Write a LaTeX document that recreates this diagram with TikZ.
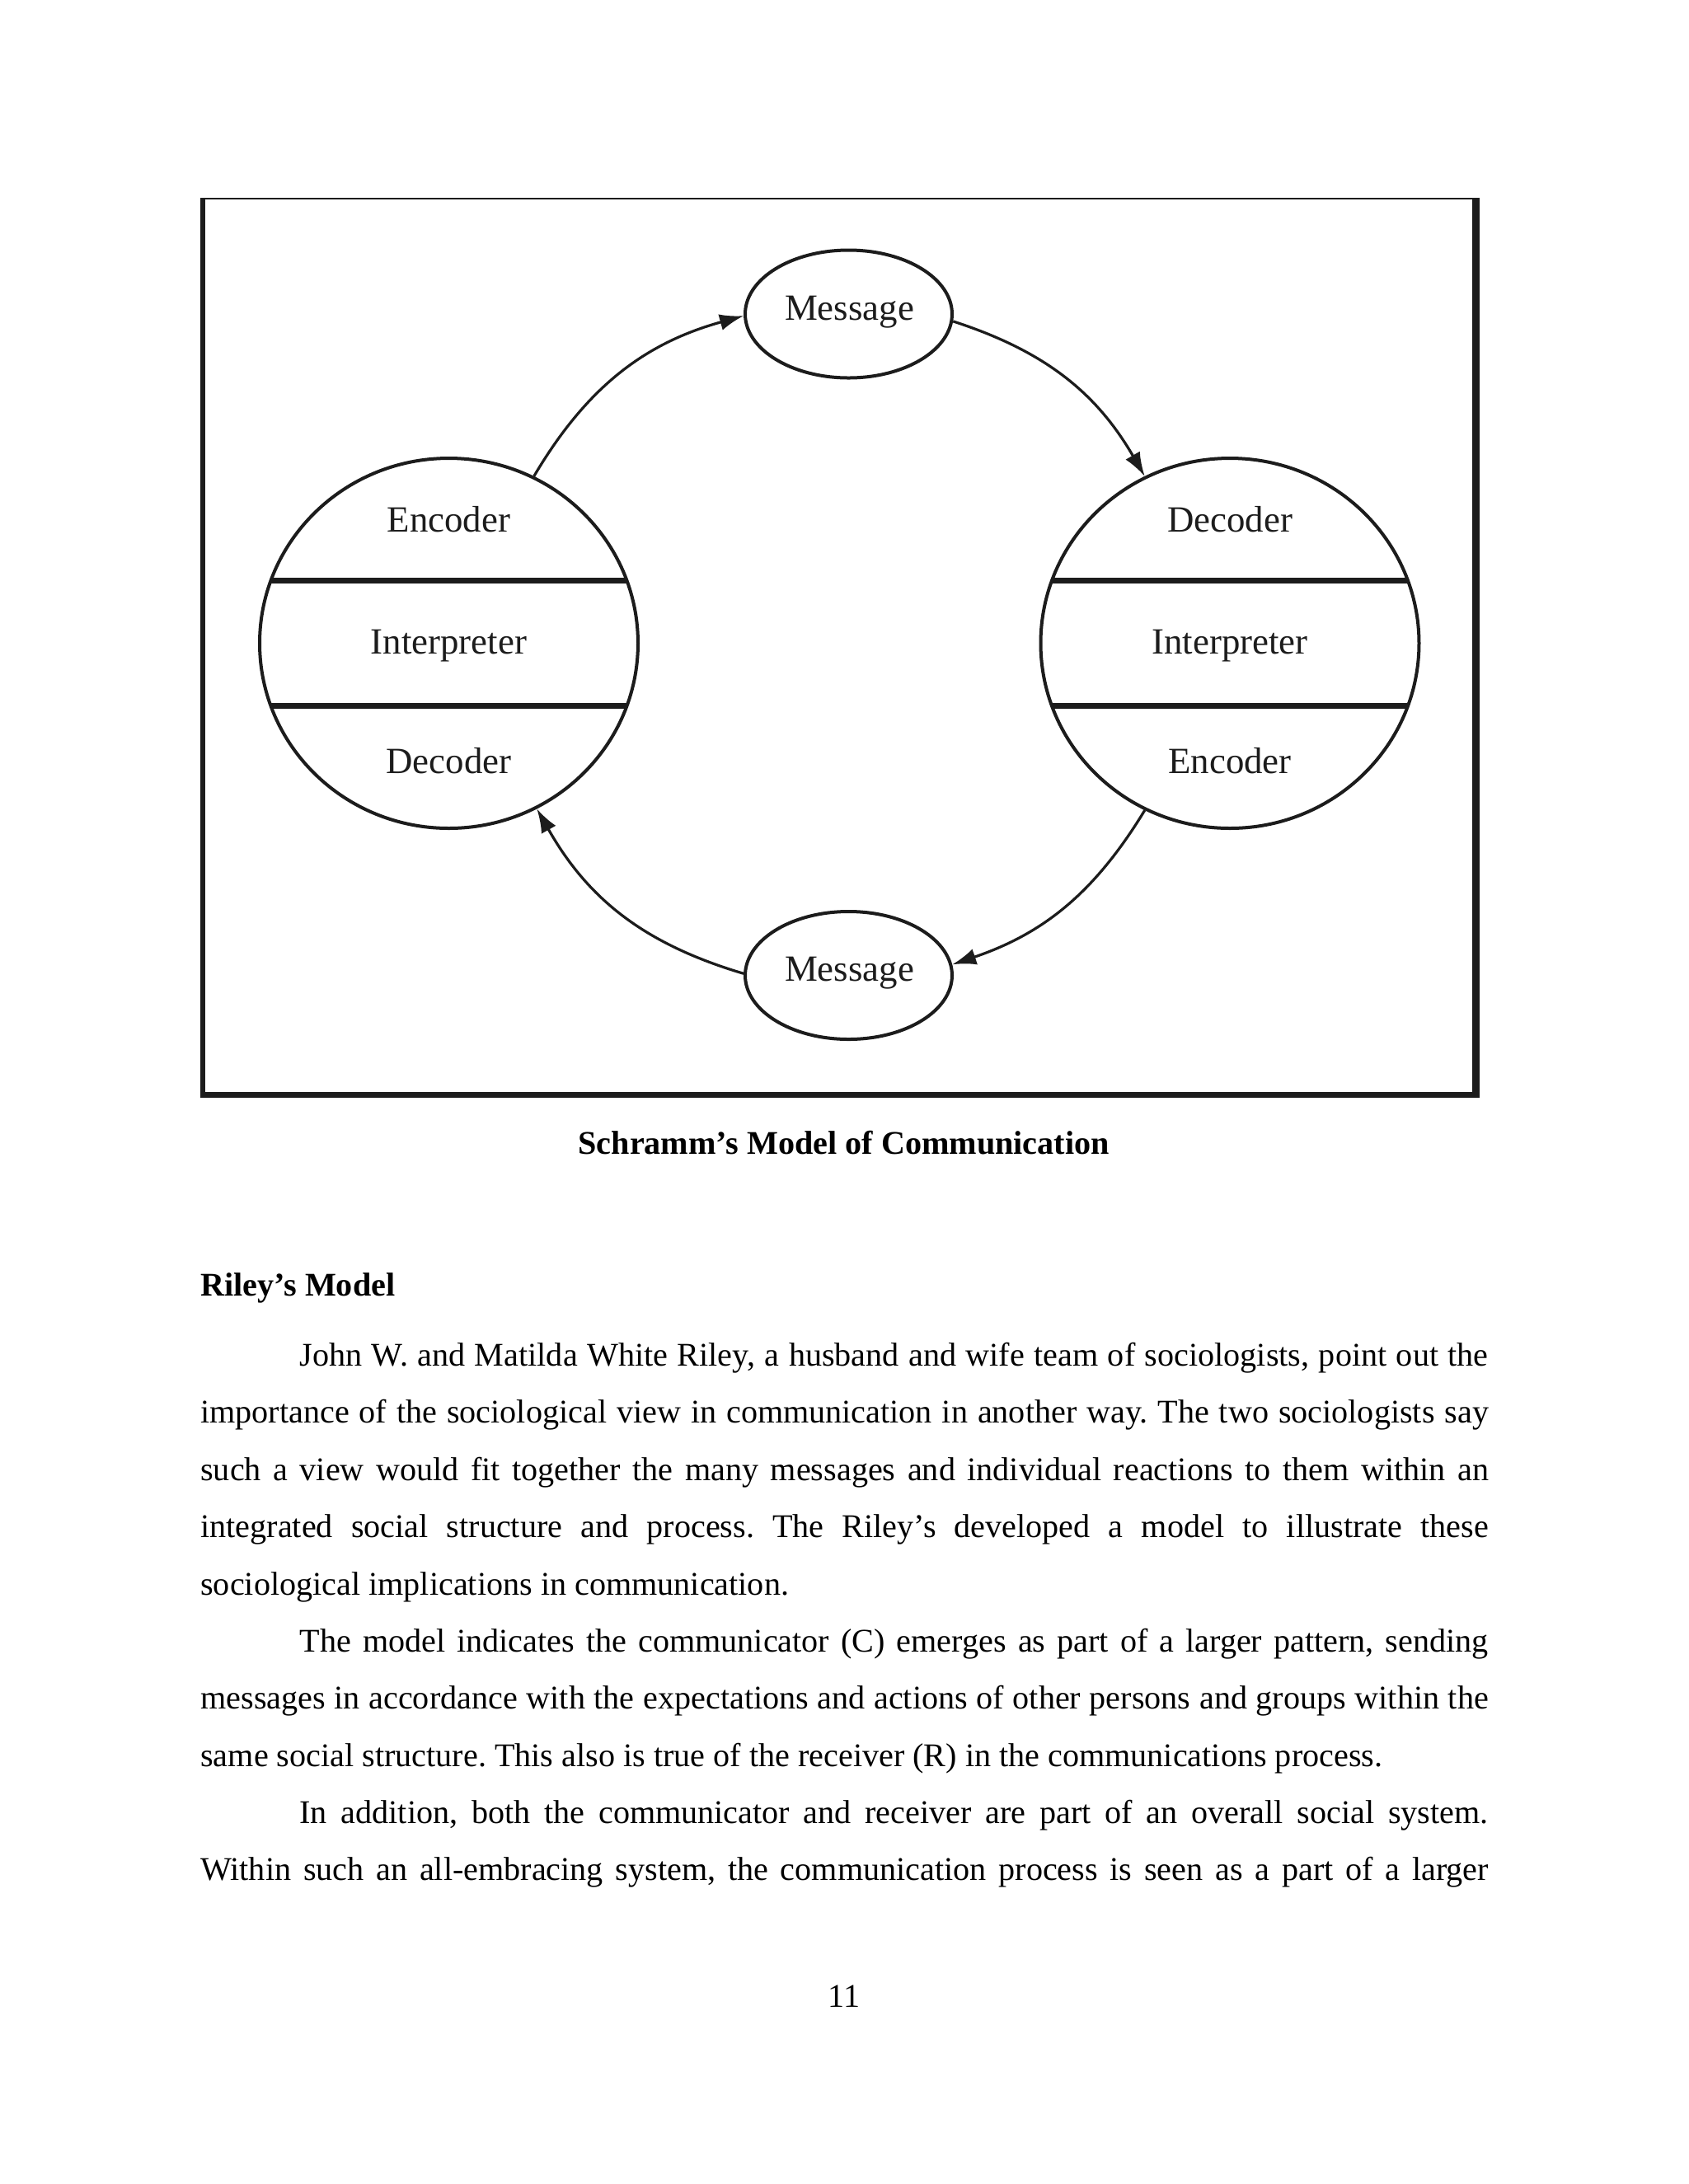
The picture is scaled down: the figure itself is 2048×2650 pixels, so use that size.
\documentclass[tikz,border=0pt]{standalone}
\usepackage{fontspec}
\setmainfont{Liberation Serif}
\usetikzlibrary{shapes.geometric,arrows.meta}
\frenchspacing
\def\u{0.29887pt}
\definecolor{ink}{rgb}{0.11,0.11,0.11}
\tikzset{
  bigc/.style={ellipse, draw=ink, line width=4*\u, minimum width=459*\u, minimum height=449*\u, inner sep=0pt},
  msg/.style={ellipse, draw=ink, line width=4*\u, minimum width=251*\u, minimum height=155*\u, inner sep=0pt},
  lab/.style={anchor=base, inner sep=0pt, text=ink, font=\fontsize{13.4}{15}\selectfont},
  bar/.style={draw=ink, line width=7*\u},
  arr/.style={draw=ink, line width=3.2*\u, -{Latex[length=29*\u, width=20*\u]}},
  body/.style={anchor=base west, inner sep=0pt, font=\fontsize{12}{14}\selectfont},
  bodyc/.style={anchor=base, inner sep=0pt, font=\fontsize{12}{14}\selectfont}
}
\begin{document}
\begin{tikzpicture}[x=0.29887pt,y=-0.29887pt]
\useasboundingbox (0,0) rectangle (2048,2650);
\fill[white] (0,0) rectangle (2048,2650);
% frame
\draw[ink, line width=2.5*\u] (243,241) -- (1795,241);
\draw[ink, line width=6*\u] (246,239.8) -- (246,1331.7);
\draw[ink, line width=9*\u] (1790,239.8) -- (1790,1331.7);
\draw[ink, line width=7*\u] (243,1328.4) -- (1794.6,1328.4);
% bars clipped to circles
\begin{scope}
\clip (544.5,780.5) ellipse [x radius=229.5, y radius=224.5];
\draw[bar] (300,704.6) -- (800,704.6);
\draw[bar] (300,856) -- (800,856);
\end{scope}
\begin{scope}
\clip (1492,780.5) ellipse [x radius=229.5, y radius=224.5];
\draw[bar] (1240,704.6) -- (1750,704.6);
\draw[bar] (1240,856) -- (1750,856);
\end{scope}
% nodes
\node[bigc] (L) at (544.5,780.5) {};
\node[bigc] (R) at (1492,780.5) {};
\node[msg] (M1) at (1029.5,381) {};
\node[msg] (M2) at (1029.5,1183.5) {};
\node[lab] (Lenc) at (544.5,645.6) {Encoder};
\node[lab] (Lint) at (544.5,793) {Interpreter};
\node[lab] (Ldec) at (544.5,938.6) {Decoder};
\node[lab] (Rdec) at (1492,645.6) {Decoder};
\node[lab] (Rint) at (1492,793) {Interpreter};
\node[lab] (Renc) at (1492,938.6) {Encoder};
\node[lab] (M1t) at (1030.5,388) {Message};
\node[lab] (M2t) at (1030.5,1190.5) {Message};
% arrows
\draw[arr] (L.63) to[bend left=22] (M1.181);
\draw[arr] (M1.-4) to[bend left=21] (R.117);
\draw[arr] (R.-117) to[bend left=20] (M2.6);
\draw[arr] (M2.179) to[bend left=22] (L.-62);
% caption and text
\node[bodyc] (cap) at (1023.7,1400) {\bfseries Schramm’s Model of Communication};
\node[body] (head) at (242.7,1572.7) {\bfseries Riley’s Model};
\node[body] (l1) at (362.9,1657) {\makebox[431pt][s]{John W. and Matilda White Riley, a husband and wife team of sociologists, point out the}};
\node[body] (l2) at (242.7,1726.9) {\makebox[467pt][s]{importance of the sociological view in communication in another way. The two sociologists say}};
\node[body] (l3) at (242.7,1796.3) {\makebox[467pt][s]{such a view would fit together the many messages and individual reactions to them within an}};
\node[body] (l4) at (242.7,1865.7) {\makebox[467pt][s]{integrated social structure and process. The Riley’s developed a model to illustrate these}};
\node[body] (l5) at (242.7,1935.1) {sociological implications in communication.};
\node[body] (l6) at (362.9,2004.5) {\makebox[431pt][s]{The model indicates the communicator (C) emerges as part of a larger pattern, sending}};
\node[body] (l7) at (242.7,2073.9) {\makebox[467pt][s]{messages in accordance with the expectations and actions of other persons and groups within the}};
\node[body] (l8) at (242.7,2143.1) {same social structure. This also is true of the receiver (R) in the communications process.};
\node[body] (l9) at (362.9,2212.3) {\makebox[431pt][s]{In addition, both the communicator and receiver are part of an overall social system.}};
\node[body] (l10) at (242.7,2281.5) {\makebox[467pt][s]{Within such an all-embracing system, the communication process is seen as a part of a larger}};
\node[bodyc] (pg) at (1024,2435) {11};
\end{tikzpicture}
\end{document}
